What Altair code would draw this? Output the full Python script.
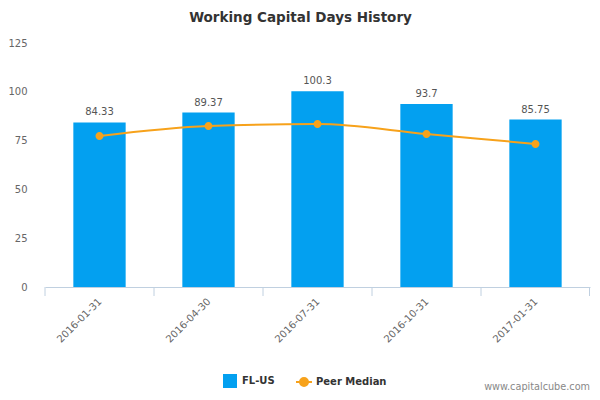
import altair as alt
import pandas as pd

dates = ["2016-01-31", "2016-04-30", "2016-07-31", "2016-10-31", "2017-01-31"]
company = [84.33, 89.37, 100.3, 93.7, 85.75]
company_labels = ["84.33", "89.37", "100.3", "93.7", "85.75"]
peer = [77.4, 82.5, 83.5, 78.4, 73.3]
series_names = ["FL-US", "Peer Median"]
y_ticks = [0, 25, 50, 75, 100, 125]
watermark = ["www.capitalcube.com"]

bars_df = pd.DataFrame({"date": dates, "value": company, "label": company_labels,
                        "series": series_names[0]})
peer_df = pd.DataFrame({"date": dates, "value": peer, "series": series_names[1]})
wm_df = pd.DataFrame({"t": watermark})

BLUE = "#03a0f0"
ORANGE = "#f7a21b"
FONT = "DejaVu Sans"
W, H = 545, 244

SQ = "M-0.75,-0.75H0.75V0.75H-0.75Z"
LN = "M-0.5,0A0.5,0.5 0 1,1 0.5,0A0.5,0.5 0 1,1 -0.5,0Z M-1,0L1,0"

x_enc = alt.X("date:N", sort=dates,
              scale=alt.Scale(paddingInner=0, paddingOuter=0),
              axis=alt.Axis(title=None, labelAngle=-45, ticks=False,
                            domainColor="#c0d0e0", domainWidth=1,
                            labelColor="#666666", labelFont=FONT, labelFontSize=10,
                            labelPadding=9, labelOffset=-3))
y_scale = alt.Scale(domain=[0, 125], nice=False)
y_enc = alt.Y("value:Q", scale=y_scale,
              axis=alt.Axis(title=None, values=y_ticks, domain=False, ticks=False,
                            grid=False, labelColor="#666666", labelFont=FONT,
                            labelFontSize=10, labelPadding=18))

color = alt.Color("series:N",
                  scale=alt.Scale(domain=series_names, range=[BLUE, ORANGE]),
                  legend=alt.Legend(title=None, orient="none", legendX=176, legendY=329,
                                    direction="horizontal", labelFont=FONT,
                                    labelFontWeight="bold", labelFontSize=10,
                                    labelColor="#333333", symbolSize=256,
                                    symbolStrokeWidth=2, columnPadding=17,
                                    labelOffset=3))
shape = alt.Shape("series:N", scale=alt.Scale(domain=series_names, range=[SQ, LN]))

bars = alt.Chart(bars_df).mark_bar(width={"band": 0.48}).encode(
    x=x_enc, y=y_enc, color=color)

bar_labels = alt.Chart(bars_df).mark_text(
    baseline="bottom", dy=-5, font=FONT, fontSize=10, color="#555555").encode(
    x=alt.X("date:N", sort=dates), y=alt.Y("value:Q", scale=y_scale), text="label:N")

line = alt.Chart(peer_df).mark_line(interpolate="monotone", strokeWidth=2).encode(
    x=alt.X("date:N", sort=dates), y=alt.Y("value:Q", scale=y_scale), color=color)

points = alt.Chart(peer_df).mark_point(filled=True, size=256, opacity=1).encode(
    x=alt.X("date:N", sort=dates), y=alt.Y("value:Q", scale=y_scale),
    color=color, shape=shape)

ticks = alt.Chart(bars_df).mark_rule(color="#c0d0e0").encode(
    x=alt.X("date:N", sort=dates, bandPosition=0),
    y=alt.value(H), y2=alt.value(H + 9))

end_tick = alt.Chart(wm_df).mark_rule(color="#c0d0e0").encode(
    x=alt.value(W - 0.5), y=alt.value(H), y2=alt.value(H + 9))

wm = alt.Chart(wm_df).mark_text(align="right", baseline="alphabetic", font=FONT,
                                fontSize=9.7, color="#888888").encode(
    x=alt.value(W), y=alt.value(H + 103), text="t:N")

chart = alt.layer(bars, bar_labels, line, points, ticks, end_tick, wm).properties(
    width=W, height=H,
    autosize=alt.AutoSizeParams(type="none"),
    padding={"left": 37, "top": 35, "right": 2, "bottom": 105},
    title=alt.TitleParams("Working Capital Days History", font=FONT, fontSize=13.5,
                          fontWeight="bold", color="#333333", offset=14, dx=-17),
).configure_view(stroke=None)

chart.save("out.html", embed_options={"renderer": "svg", "actions": False})
